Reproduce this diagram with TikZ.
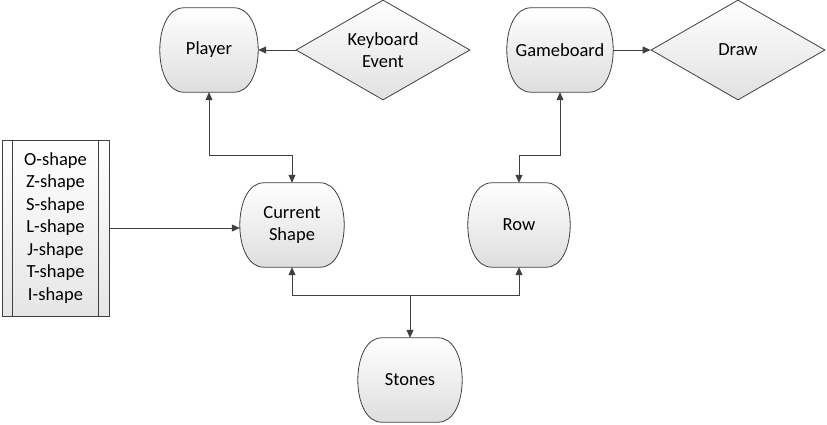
\documentclass[tikz,border=0pt]{standalone}
\usepackage{fontspec}
\setmainfont{Carlito}
\usepackage{tikz}
\usetikzlibrary{arrows.meta,calc,shapes.geometric}

\pgfdeclarelayer{background}
\pgfsetlayers{background,main}

\tikzset{
  box/.style={minimum height=84pt,align=center,
    font=\fontsize{18.5}{22}\selectfont},
  boxline/.style={draw=black!75,line width=0.8pt,
    top color=white,bottom color=black!13},
  decision/.style={diamond,draw=black!75,line width=0.8pt,aspect=1.74,
    top color=white,bottom color=black!12,minimum width=174pt,
    minimum height=100pt,inner sep=0pt,align=center,
    font=\fontsize{18.5}{22}\selectfont},
  conn/.style={draw=black!75,line width=0.8pt,-{Triangle[length=8pt,width=7pt]}},
  both/.style={conn,{Triangle[length=8pt,width=7pt]}-{Triangle[length=8pt,width=7pt]}}
}

\begin{document}
\begin{tikzpicture}[x=1pt,y=-1pt]
		\useasboundingbox (0,0) rectangle (827,425);
		
		% Top row
		\node[box,minimum width=98pt] (player) at (209,50) {Player};
		\node[decision] (kbd) at (383,50) {Keyboard\\Event};
		\node[box,minimum width=106pt] (board) at (560,50) {Gameboard};
		\node[decision] (draw) at (738,50) {Draw};
		
		% Middle row
		\node[box,minimum width=104pt] (current) at (292,225) {Current\\Shape};
		\node[box,minimum width=102pt] (row) at (519,225) {Row};
		
		% Bottom
		\node[box,minimum width=104pt] (stones) at (410,380) {Stones};
		
		% Outlines of the rounded boxes
		\begin{pgfonlayer}{background}
		\foreach \n in {player,board,current,row,stones}
		  \draw[boxline] ($(\n.north west)+(24,0)$) -- ($(\n.north east)+(-24,0)$)
		    .. controls ($(\n.north east)+(8,0)$) and ($(\n.south east)+(8,0)$) .. ($(\n.south east)+(-24,0)$)
		    -- ($(\n.south west)+(24,0)$)
		    .. controls ($(\n.south west)+(-8,0)$) and ($(\n.north west)+(-8,0)$) .. cycle;
		\end{pgfonlayer}
		
		% List of the seven shapes
		\node[draw=black!75,line width=0.8pt,top color=white,bottom color=black!10,
		  minimum width=107pt,minimum height=176pt,align=center,
		  font=\fontsize{18.5}{22.5}\selectfont] (shapes) at (55.5,228)
		  {O-shape\\Z-shape\\S-shape\\L-shape\\J-shape\\T-shape\\I-shape};
		\draw[black!75,line width=0.8pt] ($(shapes.north west)+(11,0)$) -- ($(shapes.south west)+(11,0)$);
		\draw[black!75,line width=0.8pt] ($(shapes.north east)+(-11,0)$) -- ($(shapes.south east)+(-11,0)$);
		
		% Connectors
		\draw[conn] (kbd.west) -- (player.east);
		\draw[conn] (board.east) -- (draw.west);
		\draw[both] (player.south) -- ++(0,63) -| (current.north);
		\draw[both] (board.south) -- ++(0,63) -| (row.north);
		\draw[conn] (shapes.east) -- (shapes.east -| current.west);
		
		\coordinate (split) at (410,295);
		\draw[conn] (split) -| (current.south);
		\draw[conn] (split) -| (row.south);
		\draw[conn] (split) -- (stones.north);
		
	\end{tikzpicture}
\end{document}
